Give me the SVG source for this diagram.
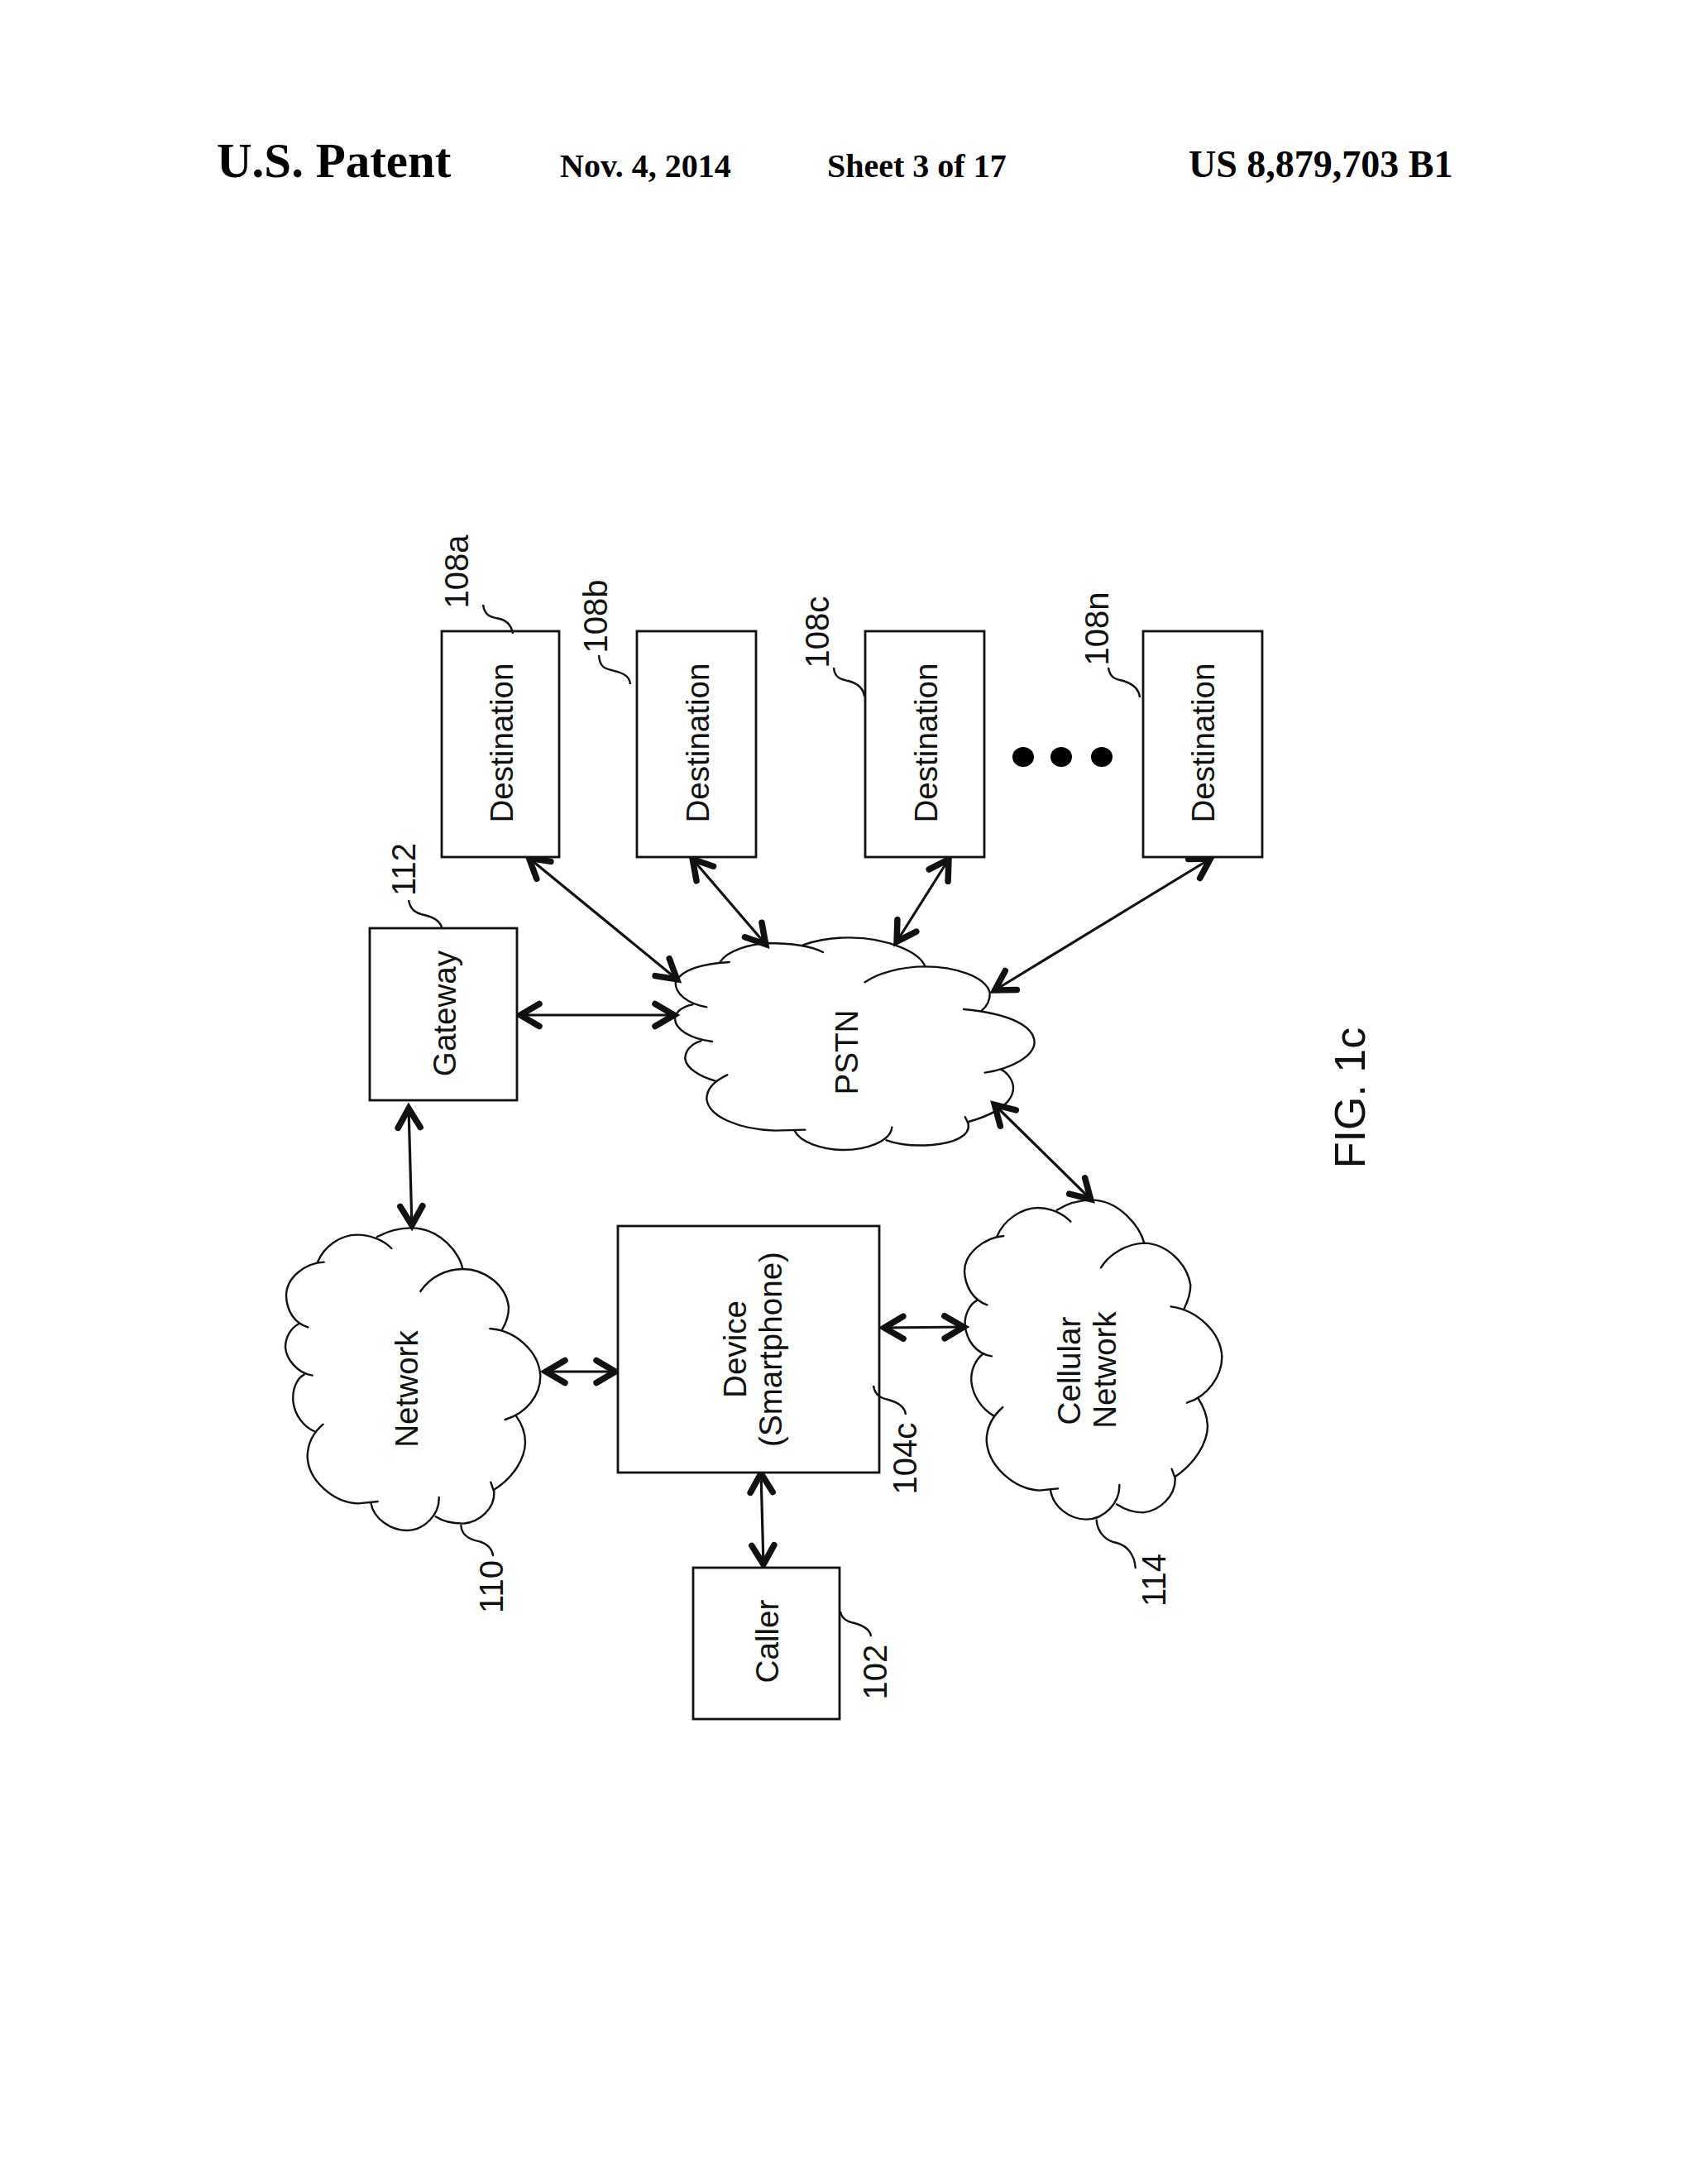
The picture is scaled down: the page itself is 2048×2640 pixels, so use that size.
<svg xmlns="http://www.w3.org/2000/svg" width="2048" height="2640" viewBox="0 0 2048 2640">
<style>
.box{fill:#fff;stroke:#111;stroke-width:2.8}
.lobe{fill:none;stroke:#111;stroke-width:7.2;stroke-linecap:round}
.lead{fill:none;stroke:#111;stroke-width:2.4}
.conn{fill:none;stroke:#111;stroke-width:3.2;marker-start:url(#ah);marker-end:url(#ah)}
.t{font-family:"Liberation Sans",Arial,sans-serif;font-size:38.6px;fill:#111;text-anchor:middle}
.n{font-size:40px}
.h{font-family:"Liberation Serif","Times New Roman",serif;font-weight:bold;fill:#000}
</style>
<defs>
<marker id="ah" markerUnits="userSpaceOnUse" markerWidth="50" markerHeight="50" viewBox="-35 -25 50 50" refX="0" refY="0" orient="auto-start-reverse" overflow="visible">
<path d="M-25 -13.5 L-2 0 L-25 13.5" fill="none" stroke="#111" stroke-width="7.5" stroke-linecap="round" stroke-linejoin="miter"/>
</marker>
</defs>
<rect width="2048" height="2640" fill="#fff"/>
<g id="header">
<text class="h" x="262" y="214" font-size="59">U.S. Patent</text>
<text class="h" x="677" y="214" font-size="40">Nov. 4, 2014</text>
<text class="h" x="1000" y="214" font-size="40">Sheet 3 of 17</text>
<text class="h" x="1437" y="214" font-size="46">US 8,879,703 B1</text>
</g>
<g id="connectors">
<path class="conn" d="M638 1036 L820 1185"/>
<path class="conn" d="M836 1037 L927 1143"/>
<path class="conn" d="M1148 1037 L1083 1140"/>
<path class="conn" d="M1465 1037 L1201 1198"/>
<path class="conn" d="M627 1227 L817 1227"/>
<path class="conn" d="M494 1338 L498 1483"/>
<path class="conn" d="M1201 1334 L1320 1451"/>
<path class="conn" d="M658 1658 L746 1658"/>
<path class="conn" d="M1067 1605 L1167 1604"/>
<path class="conn" d="M920 1779 L923 1893"/>
</g>
<g id="dest-108a"><rect class="box" x="534" y="763" width="142" height="273"/><text class="t" transform="translate(620 898) rotate(-90)">Destination</text><path class="lead" d="M584 731 C586 745 594 746 604 748 C613 750 619 757 620 766"/><text class="t n" transform="translate(566 691) rotate(-90)">108a</text></g>
<g id="dest-108b"><rect class="box" x="770" y="763" width="144" height="273"/><text class="t" transform="translate(857 898) rotate(-90)">Destination</text><path class="lead" d="M724 792 C725 806 731 808 739 810 C750 813 761 815 762 827"/><text class="t n" transform="translate(734 745) rotate(-90)">108b</text></g>
<g id="dest-108c"><rect class="box" x="1046" y="763" width="144" height="273"/><text class="t" transform="translate(1133 898) rotate(-90)">Destination</text><path class="lead" d="M1008 807 C1009 820 1017 821 1025 823 C1037 826 1044 832 1045 842"/><text class="t n" transform="translate(1002 764) rotate(-90)">108c</text></g>
<g id="dest-108n"><rect class="box" x="1382" y="763" width="144" height="273"/><text class="t" transform="translate(1468 898) rotate(-90)">Destination</text><path class="lead" d="M1340 807 C1342 820 1349 821 1358 823 C1371 827 1377 833 1378 843"/><text class="t n" transform="translate(1340 760) rotate(-90)">108n</text></g>
<g id="ellipsis"><ellipse cx="1237" cy="915" rx="13" ry="12" fill="#000"/><ellipse cx="1283" cy="915" rx="13" ry="12" fill="#000"/><ellipse cx="1332" cy="915" rx="13" ry="12" fill="#000"/></g>
<g id="gateway-112"><rect class="box" x="447" y="1122" width="178" height="208"/><text class="t" transform="translate(551 1225) rotate(-90)">Gateway</text><path class="lead" d="M494 1088 C496 1100 503 1104 513 1106 C525 1109 532 1113 534 1121"/><text class="t n" transform="translate(502 1051) rotate(-90)">112</text></g>
<g id="pstn"><g transform="translate(760 1080) scale(.33333)">
<path class="lobe" d="M365 249 C280 255 190 270 170 325 C170 365 215 400 283 412"/>
<path class="lobe" d="M232 403 C195 410 168 430 168 455 C170 490 215 525 303 537"/>
<path class="lobe" d="M262 535 C225 545 203 575 205 600 C210 635 260 665 315 680"/>
<path class="lobe" d="M358 658 C310 680 283 710 283 745 C290 810 400 855 530 860 L640 857"/>
<path class="lobe" d="M602 860 C620 900 700 930 780 930 C860 930 950 900 955 848"/>
<path class="lobe" d="M935 895 C990 915 1060 915 1100 912 C1180 905 1240 880 1232 835 L1220 810"/>
<path class="lobe" d="M1232 828 C1300 810 1395 770 1395 705 C1395 680 1375 650 1350 638"/>
<path class="lobe" d="M1292 650 C1390 635 1470 590 1472 540 C1470 480 1380 435 1215 420"/>
<path class="lobe" d="M1280 425 C1300 410 1312 385 1310 360 C1295 300 1180 265 1075 265 C990 265 900 290 857 322"/>
<path class="lobe" d="M1075 265 C1060 220 950 160 800 160 C740 160 680 170 632 187"/>
<path class="lobe" d="M705 213 C660 190 590 180 500 180 C440 185 360 205 332 248"/>
</g><text class="t" transform="translate(1037 1272) rotate(-90)">PSTN</text></g>
<g id="network-110"><g transform="translate(320 1460) scale(.33333)">
<path class="lobe" d="M215 197 C150 200 78 250 78 320 C80 375 110 420 157 433"/>
<path class="lobe" d="M125 420 C95 435 75 470 75 505 C78 550 120 600 173 608"/>
<path class="lobe" d="M143 605 C115 620 100 660 103 700 C108 750 140 795 185 813"/>
<path class="lobe" d="M212 785 C170 820 155 860 155 905 C160 990 250 1070 340 1072 L410 1065"/>
<path class="lobe" d="M385 1070 C395 1130 460 1170 515 1170 C580 1170 635 1110 632 1050"/>
<path class="lobe" d="M620 1120 C650 1140 690 1145 720 1145 C780 1140 835 1090 832 1030 L820 995"/>
<path class="lobe" d="M832 1022 C900 980 945 910 945 850 C945 815 930 780 912 755"/>
<path class="lobe" d="M872 768 C950 745 1000 680 1000 610 C995 520 910 445 817 438"/>
<path class="lobe" d="M862 440 C880 410 885 380 885 360 C875 280 800 222 718 222 C660 222 600 250 565 303"/>
<path class="lobe" d="M718 222 C710 170 640 73 530 73 C490 73 445 85 408 105"/>
<path class="lobe" d="M460 147 C430 115 380 98 335 98 C275 98 215 140 192 197"/>
<path class="lobe" d="M712 1152 C715 1190 750 1205 780 1210 C810 1220 825 1240 828 1260"/>
</g><text class="t" transform="translate(505 1679) rotate(-90)">Network</text><text class="t n" transform="translate(608 1918) rotate(-90)">110</text></g>
<g id="cellular-114"><g transform="translate(1140 1420) scale(.33333)">
<path class="lobe" d="M220 222 C150 228 78 285 78 350 C80 405 110 455 160 472"/>
<path class="lobe" d="M125 455 C95 470 78 510 80 545 C85 600 120 650 177 658"/>
<path class="lobe" d="M145 650 C118 670 100 710 103 750 C108 800 140 850 185 875"/>
<path class="lobe" d="M217 843 C175 880 158 925 158 965 C165 1060 260 1140 350 1145 L417 1138"/>
<path class="lobe" d="M390 1145 C400 1205 460 1250 520 1250 C585 1250 642 1190 640 1125"/>
<path class="lobe" d="M630 1195 C660 1215 690 1225 725 1225 C785 1220 845 1165 842 1100 L830 1067"/>
<path class="lobe" d="M842 1095 C910 1050 960 975 960 910 C958 875 945 840 925 810"/>
<path class="lobe" d="M885 827 C960 805 1012 730 1012 660 C1008 570 920 490 827 478"/>
<path class="lobe" d="M875 485 C890 455 898 425 898 400 C885 320 810 250 730 248 C670 250 605 285 573 337"/>
<path class="lobe" d="M730 248 C715 190 640 92 540 92 C495 92 450 105 413 128"/>
<path class="lobe" d="M463 170 C435 140 390 120 345 120 C285 120 220 165 197 222"/>
<path class="lobe" d="M557 1252 C560 1300 595 1330 630 1335 C670 1345 695 1380 698 1425"/>
</g><text class="t" transform="translate(1306 1657) rotate(-90)">Cellular</text><text class="t" transform="translate(1349 1656) rotate(-90)">Network</text><text class="t n" transform="translate(1409 1910) rotate(-90)">114</text></g>
<g id="device-104c"><rect class="box" x="747" y="1482" width="316" height="298"/><text class="t" transform="translate(902 1631) rotate(-90)">Device</text><text class="t" transform="translate(945 1631) rotate(-90)">(Smartphone)</text><path class="lead" d="M1056 1675 C1058 1688 1066 1690 1074 1692 C1085 1695 1094 1700 1095 1710"/><text class="t n" transform="translate(1108 1763) rotate(-90)">104c</text></g>
<g id="caller-102"><rect class="box" x="838" y="1895" width="177" height="183"/><text class="t" transform="translate(941 1984) rotate(-90)">Caller</text><path class="lead" d="M1016 1948 C1018 1958 1025 1960 1033 1962 C1044 1965 1052 1970 1053 1978"/><text class="t n" transform="translate(1072 2021) rotate(-90)">102</text></g>
<g id="figure-label"><text class="t" style="font-size:52px" transform="translate(1650 1327) rotate(-90)">FIG. 1c</text></g>
</svg>
